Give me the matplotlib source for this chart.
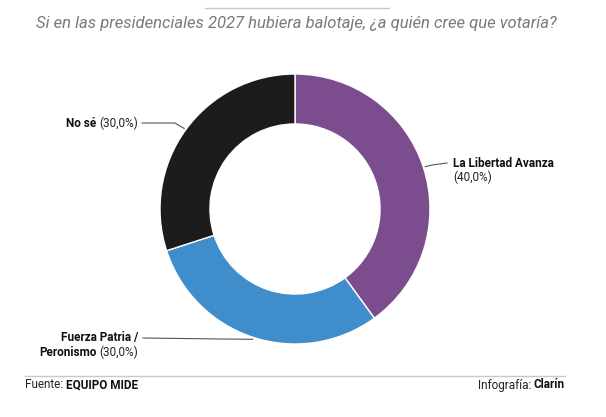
import numpy as np
import matplotlib
matplotlib.use("Agg")
import matplotlib.pyplot as plt

labels_bold = ["La Libertad Avanza", "Fuerza Patria /\nPeronismo", "No sé"]
values = [40.0, 30.0, 30.0]
colors = ["#7b4d8f", "#3f8dcb", "#1c1c1c"]
title = "Si en las presidenciales 2027 hubiera balotaje, ¿a quién cree que votaría?"

W, H = 606, 417
fig = plt.figure(figsize=(W / 100, H / 100), dpi=100)
fig.patch.set_facecolor("white")

cx, cy, R = 295, 209, 135
ax = fig.add_axes([(cx - R) / W, (H - cy - R) / H, 2 * R / W, 2 * R / H])
ax.pie(values, colors=colors, startangle=90, counterclock=False, radius=1.0,
       wedgeprops=dict(width=0.37, edgecolor="white", linewidth=1.0))
ax.set_xlim(-1, 1)
ax.set_ylim(-1, 1)
ax.set_aspect("equal")
ax.axis("off")

ov = fig.add_axes([0, 0, 1, 1], zorder=5)
ov.set_xlim(0, W)
ov.set_ylim(H, 0)
ov.axis("off")

font = "Roboto"
FS = 8.5
renderer = fig.canvas.get_renderer()

def runs(x, y, parts, ha="left"):
    """parts: list of (text, bold, color). Place pieces consecutively."""
    arts = []
    for txt, bold, col in parts:
        a = ov.text(0, y, txt, ha="left", va="center", fontsize=FS, color=col,
                    weight="bold" if bold else "normal", family=font)
        arts.append(a)
    widths = []
    for a in arts:
        bb = a.get_window_extent(renderer=renderer)
        widths.append(bb.width)
    space = 2.5
    total = sum(widths) + space * (len(arts) - 1)
    start = x if ha == "left" else x - total
    pos = start
    for a, w in zip(arts, widths):
        a.set_x(pos)
        pos += w + space

ov.plot([205, 389], [8, 8], color="#c8c8c8", lw=1)
ov.text(296, 23, title, ha="center", va="center", fontsize=12, style="italic",
        color="#7a7a7a", family=font)
ov.plot([25, 565], [376, 376], color="#c8c8c8", lw=1)
runs(25, 385, [("Fuente:", False, "#222"), ("EQUIPO MIDE", True, "#111")])
runs(565, 385, [("Infografía:", False, "#222"), ("Clarín", True, "#111")], ha="right")

cum = np.cumsum([0] + values)
total = sum(values)
mids = [90 - 360 * (cum[i] + values[i] / 2) / total for i in range(len(values))]

def edge(a, r=R + 2):
    return cx + r * np.cos(np.radians(a)), cy - r * np.sin(np.radians(a))

def pct(v):
    return f"({v:.1f}%)".replace(".", ",")

lc = "#555555"
ex, ey = edge(mids[0])
ov.plot([ex, 432, 447], [ey, 165, 163], color=lc, lw=0.8)
runs(453, 163, [("La Libertad Avanza", True, "#111")])
runs(453, 177, [(pct(values[0]), False, "#222")])

ex, ey = edge(mids[1])
ov.plot([ex, 222, 143], [ey, 339, 338], color=lc, lw=0.8)
runs(138, 338, [("Fuerza Patria /", True, "#111")], ha="right")
runs(138, 352, [("Peronismo", True, "#111"), (pct(values[1]), False, "#222")], ha="right")

ex, ey = edge(mids[2])
ov.plot([ex, 175, 142], [ey, 123, 123], color=lc, lw=0.8)
runs(138, 123, [("No sé", True, "#111"), (pct(values[2]), False, "#222")], ha="right")

fig.savefig("out.png", dpi=100, facecolor="white")
